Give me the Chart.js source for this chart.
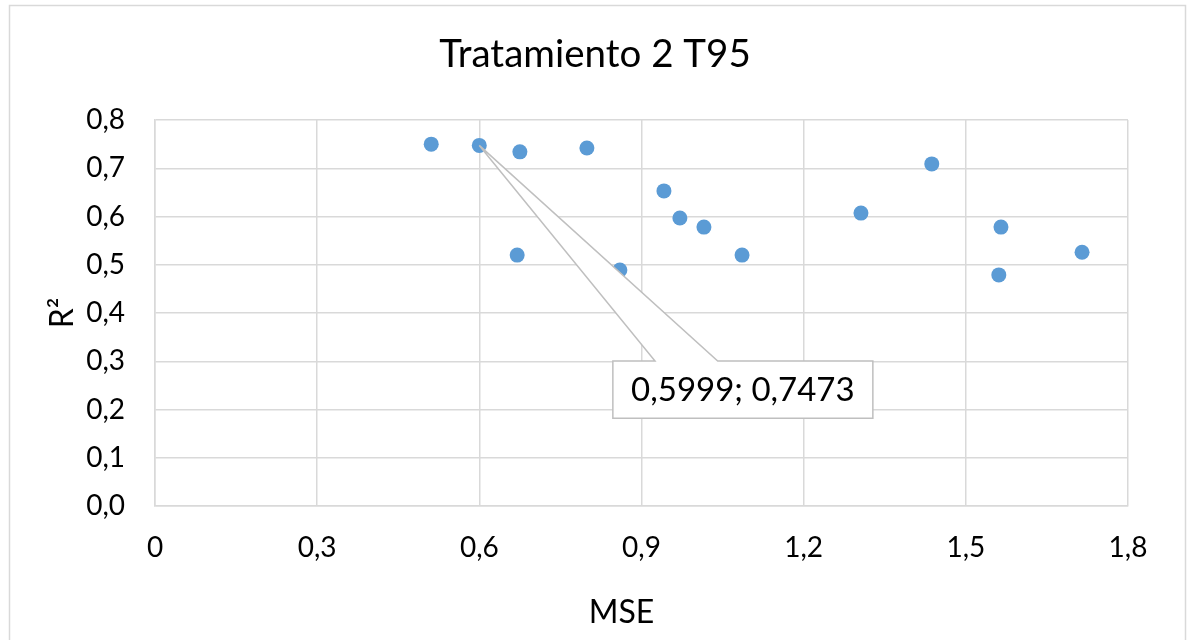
<!DOCTYPE html>
<html>
<head>
<meta charset="utf-8">
<script src="https://cdn.jsdelivr.net/npm/chart.js@4.4.1/dist/chart.umd.min.js"></script>
<style>
  html, body { margin: 0; padding: 0; background: #ffffff; }
  #wrap { width: 1187px; height: 640px; position: relative; }
</style>
</head>
<body>
<div id="wrap"><canvas id="c" width="1187" height="640"></canvas></div>
<script>
// ---- Data ----
const mseValues = [0.511, 0.5999, 0.675, 0.670, 0.799, 0.860, 0.9415, 0.971, 1.0155, 1.086, 1.306, 1.437, 1.565, 1.561, 1.715];
const r2Values  = [0.750, 0.7473, 0.734, 0.520, 0.742, 0.489, 0.653, 0.597, 0.578, 0.520, 0.607, 0.709, 0.578, 0.479, 0.526];
const xTickValues = [0, 0.3, 0.6, 0.9, 1.2, 1.5, 1.8];
const yTickValues = [0, 0.1, 0.2, 0.3, 0.4, 0.5, 0.6, 0.7, 0.8];
const chartTitle = 'Tratamiento 2 T95';
const xTitle = 'MSE';
const yTitle = 'R²';
const labelledIndex = 1;   // point carrying the data callout
const calloutText = '0,5999; 0,7473';
// callout box placement, in data units
const calloutBox = { x0: 0.847, x1: 1.328, yTop: 0.3005, yBottom: 0.182, baseX0: 0.925, baseX1: 1.041 };

const points = mseValues.map((x, i) => ({ x: x, y: r2Values[i] }));
const fontFam = "Lato, 'Open Sans', sans-serif";

function fmtX(v) {
  if (Math.abs(v) < 1e-9) return '0';
  return v.toFixed(1).replace('.', ',');
}
function fmtY(v) { return v.toFixed(1).replace('.', ','); }

const framePlugin = {
  id: 'frame',
  afterDraw(chart) {
    const ctx = chart.ctx;
    const ca = chart.chartArea;
    ctx.save();
    ctx.strokeStyle = '#d9d9d9';
    ctx.lineWidth = 1.5;
    ctx.strokeRect(9.5, 5.5, 1176, 700);
    ctx.fillStyle = '#000000';
    ctx.textAlign = 'center';
    ctx.textBaseline = 'middle';
    // chart title
    ctx.font = '38.5px ' + fontFam;
    ctx.fillText(chartTitle, 595, 55);
    // x-axis title
    ctx.font = '32px ' + fontFam;
    ctx.fillText(xTitle, (ca.left + ca.right) / 2 - 20, 613);
    ctx.restore();
  }
};

const calloutPlugin = {
  id: 'callout',
  afterDatasetsDraw(chart) {
    const xs = chart.scales.x, ys = chart.scales.y;
    const ctx = chart.ctx;
    const px = xs.getPixelForValue(mseValues[labelledIndex]);
    const py = ys.getPixelForValue(r2Values[labelledIndex]);
    const l = xs.getPixelForValue(calloutBox.x0);
    const r = xs.getPixelForValue(calloutBox.x1);
    const t = ys.getPixelForValue(calloutBox.yTop);
    const b = ys.getPixelForValue(calloutBox.yBottom);
    const b0 = xs.getPixelForValue(calloutBox.baseX0);
    const b1 = xs.getPixelForValue(calloutBox.baseX1);
    ctx.save();
    ctx.beginPath();
    ctx.moveTo(l, t);
    ctx.lineTo(b0, t);
    ctx.lineTo(px, py);
    ctx.lineTo(b1, t);
    ctx.lineTo(r, t);
    ctx.lineTo(r, b);
    ctx.lineTo(l, b);
    ctx.closePath();
    ctx.fillStyle = '#ffffff';
    ctx.fill();
    ctx.strokeStyle = '#bfbfbf';
    ctx.lineWidth = 1.5;
    ctx.stroke();
    ctx.fillStyle = '#000000';
    ctx.font = '33px ' + fontFam;
    ctx.textAlign = 'center';
    ctx.textBaseline = 'middle';
    ctx.fillText(calloutText, (l + r) / 2, (t + b) / 2 + 1);
    ctx.restore();
  }
};

new Chart(document.getElementById('c'), {
  type: 'scatter',
  data: {
    datasets: [{
      data: points,
      backgroundColor: '#5b9bd5',
      borderWidth: 0,
      pointRadius: 7.5,
      pointHoverRadius: 7.5
    }]
  },
  options: {
    responsive: false,
    animation: false,
    events: [],
    layout: { padding: { left: 9, right: 59, top: 120, bottom: 0 } },
    plugins: {
      legend: { display: false },
      tooltip: { enabled: false },
      title: { display: false }
    },
    scales: {
      x: {
        type: 'linear',
        min: 0, max: 1.8,
        afterBuildTicks(s) { s.ticks = xTickValues.map(v => ({ value: v })); },
        afterFit(s) { s.height = 134; },
        grid: { color: '#d9d9d9', lineWidth: 1.5, drawTicks: false, tickLength: 0 },
        border: { color: '#d9d9d9', width: 1.5 },
        ticks: {
          color: '#000000',
          font: { family: fontFam, size: 28 },
          padding: 25,
          maxRotation: 0,
          callback: v => fmtX(v)
        },
        title: { display: false }
      },
      y: {
        type: 'linear',
        min: 0, max: 0.8,
        afterBuildTicks(s) { s.ticks = yTickValues.map(v => ({ value: v })); },
        afterFit(s) { s.width = 146; },
        grid: { color: '#d9d9d9', lineWidth: 1.5, drawTicks: false, tickLength: 0 },
        border: { color: '#d9d9d9', width: 1.5 },
        ticks: {
          color: '#000000',
          font: { family: fontFam, size: 28 },
          padding: 30,
          callback: v => fmtY(v)
        },
        title: {
          display: true, text: yTitle, color: '#000000',
          font: { family: fontFam, size: 32 },
          padding: { top: 34, bottom: 0 }
        }
      }
    }
  },
  plugins: [framePlugin, calloutPlugin]
});
</script>
</body>
</html>
